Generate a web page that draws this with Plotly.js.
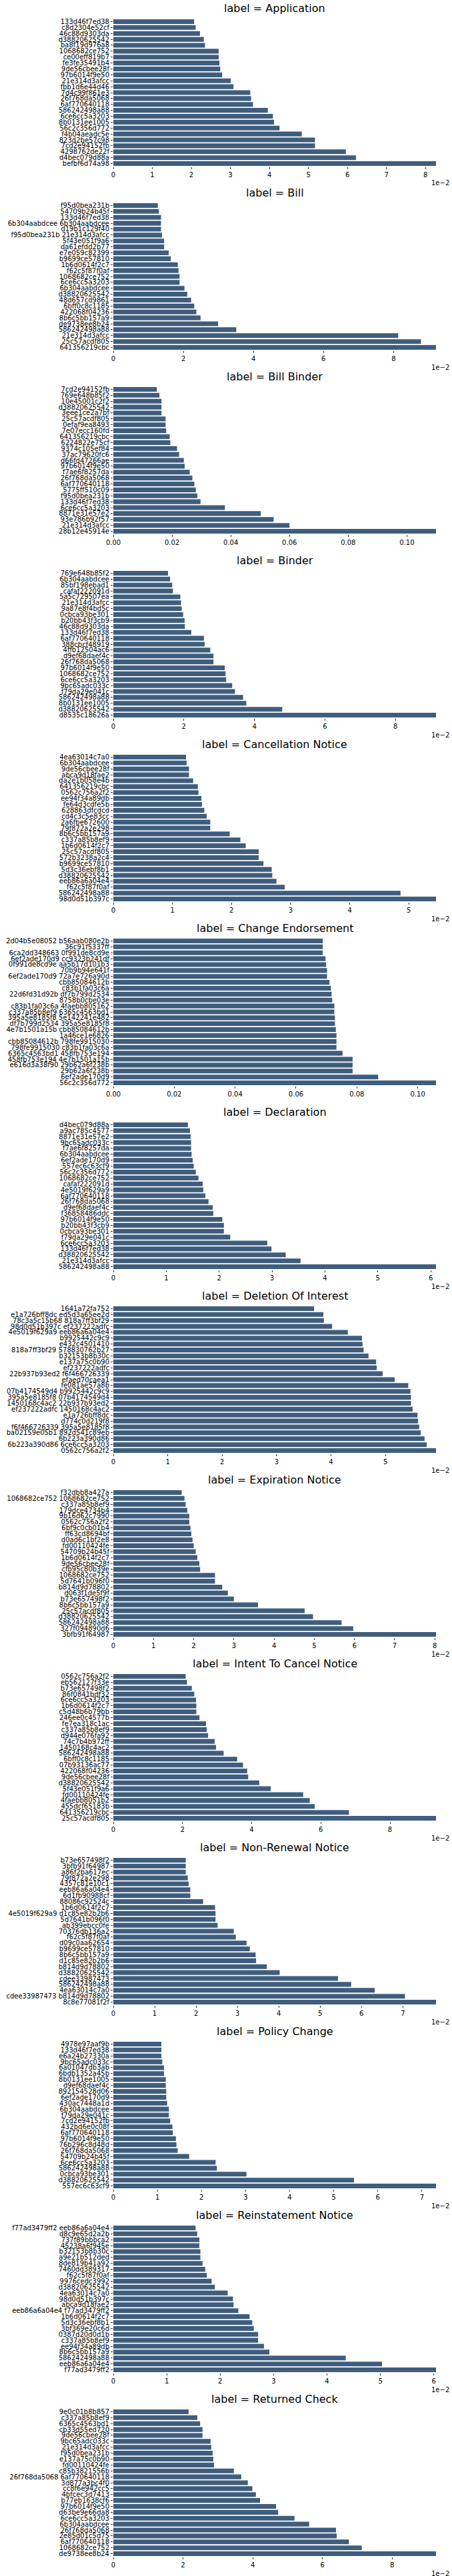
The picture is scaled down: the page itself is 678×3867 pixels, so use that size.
<!DOCTYPE html>
<html>
<head>
<meta charset="utf-8">
<script src="https://cdn.plot.ly/plotly-3.0.1.min.js"></script>
<style>body{margin:0;background:#fff}</style>
</head>
<body>
<div id="chart"></div>
<script>
var titles = ['Application', 'Bill', 'Bill Binder', 'Binder', 'Cancellation Notice', 'Change Endorsement',
  'Declaration', 'Deletion Of Interest', 'Expiration Notice', 'Intent To Cancel Notice', 'Non-Renewal Notice',
  'Policy Change', 'Reinstatement Notice', 'Returned Check'];

// axis multiplier shown at the bottom right of each panel
var exponents = ['1e\u22122', '1e\u22122', '', '1e\u22122', '1e\u22122', '', '1e\u22122', '1e\u22122',
  '1e\u22122', '1e\u22122', '1e\u22122', '1e\u22122', '1e\u22122', '1e\u22122'];
var tickSteps = [1, 2, 0.02, 2, 1, 0.02, 1, 1, 1, 2, 1, 1, 1, 2];

var applicationLabels = ['133d46f7ed38', 'c8d2304e52cf', '46c88d9303da', 'd38820625542', 'ba8f19d976a8', '1068682ce752', 'ce00eff819b7', 'fe3fe35491b4', '9de56cbee28f', '97b6014f9e50', '21e314d3afcc', 'fbb1d6e44d46', '7d4c99f861e3', '26f768da5068', '6af770640118', '586242498a88', '6ce6cc5a3203', '8b0131ee1005', '56c2c356d772', 'f4b04aeadc5e', '823d2be57c98', '7cd2e94152fb', '4298762de22f', 'd4bec079d88a', 'befbf6d74a98'];
var applicationValues = [2.07, 2.11, 2.22, 2.32, 2.35, 2.70, 2.70, 2.72, 2.74, 2.79, 3.01, 3.08, 3.51, 3.53, 3.58, 3.96, 4.09, 4.12, 4.26, 4.83, 5.17, 5.17, 5.96, 6.22, 8.27];

var billLabels = ['f95d0bea231b', '54709b24b45f', '133d46f7ed38', '6b304aabdcee 6b304aabdcee', 'd19b1c129f40', 'f95d0bea231b 21e314d3afcc', '5f43e051f9a6', 'da61efdd2b77', 'e7e059c82399', 'b9699ce57810', '1b6d0614f2c7', 'f62c5f87f0af', '1068682ce752', '6ce6cc5a3203', '6b304aabdcee', 'd38820625542', '48d657cd9861', '6bff0c8c1185', '422068f04236', '8b6c5bb157a9', 'de9738ee8b24', '586242498a88', '21e314d3afcc', '25c57acdf805', '641356219cbc'];
var billValues = [1.27, 1.30, 1.36, 1.36, 1.36, 1.39, 1.45, 1.45, 1.58, 1.64, 1.84, 1.86, 1.89, 1.89, 2.03, 2.11, 2.22, 2.31, 2.37, 2.49, 2.99, 3.51, 8.13, 8.78, 9.21];

var billBinderLabels = ['7cd2e94152fb', '769e648b85f2', '10e45001c2f2', 'd38820625542', '3eee1ce2a7bf', '25c57acdf805', '0efaf9ea8493', '7e07ecc160fd', '641356219cbc', '6224822e75cf', '9374c105ef84', '37ac79620fc6', 'd66fd47266ae', '97b6014f9e50', 'f7ae6f8257da', '26f768da5068', '6af770640118', '5775ff510c09', 'f95d0bea231b', '133d46f7ed38', '6ce6cc5a3203', '8871e31e57e2', '93e786b92f57', '21e314d3afcc', '28b12e45914e'];
var billBinderValues = [0.0148, 0.0157, 0.0164, 0.0164, 0.0164, 0.0178, 0.0178, 0.0180, 0.0192, 0.0194, 0.0217, 0.0224, 0.0240, 0.0243, 0.0260, 0.0269, 0.0276, 0.0281, 0.0286, 0.0297, 0.0380, 0.0502, 0.0546, 0.0600, 0.1099];

var binderLabels = ['769e648b85f2', '6b304aabdcee', '85bf198ebad1', 'cafaf222091d', '5a5c729507ea', '21e314d3afcc', '9a87e8f4bd5c', '0cbca93be301', 'b20bb43f3cb9', '46c88d9303da', '133d46f7ed38', '6af770640118', '388cbcf48919', '4ffb12504ac6', 'd9ef68daef4c', '26f768da5068', '97b6014f9e50', '1068682ce752', '6ce6cc5a3203', '9bc65adc033c', 'f79da29e041c', '586242498a88', '8b0131ee1005', 'd38820625542', 'd8535c18626a'];
var binderValues = [1.55, 1.61, 1.67, 1.69, 1.90, 1.92, 1.94, 1.98, 2.02, 2.03, 2.21, 2.57, 2.59, 2.75, 2.84, 2.84, 3.16, 3.18, 3.20, 3.37, 3.45, 3.68, 3.77, 4.79, 9.15];

var cancellationLabels = ['4ea63014c7a0', '6b304aabdcee', '9de56cbee28f', 'abca9d18fae2', 'da2e1b058e4b', '641356219cbc', '0562c756a2f2', 'ee94f34a89db', 'fe64d3cdfe5b', '628863dfcdcd', 'cd4c3c5e83cc', '2a6fbe672600', '79f872a2e298', '8b6c5bb157a9', 'c337a85b8ef9', '1b6d0614f2c7', '25c57acdf805', '572b3238a2c4', 'b9699ce57810', '5d3c36ebf8b1', 'd38820625542', 'eeb86a6a04e4', 'f62c5f87f0af', '586242498a88', '98d0d51b397c'];
var cancellationValues = [1.23, 1.24, 1.28, 1.28, 1.35, 1.43, 1.44, 1.49, 1.50, 1.54, 1.58, 1.64, 1.64, 1.97, 2.15, 2.24, 2.46, 2.46, 2.54, 2.68, 2.69, 2.76, 2.90, 4.86, 5.46];

var changeLabels = ['2d04b5e08052 b56aab080e2b', '36c91f5337ff', '6ca2dd348663 0f991de8cd9e', '6ef2ade170d9 cc9323b241df', '0f991de8cd9e aa5b17d101b3', '70b9b94e641f', '6ef2ade170d9 72a7e726a90d', 'cbb85084612b', 'c83b1fa03c6a', '22d6fd31d92b df7b799d2534', '8758b0cbe03e', 'c83b1fa03c6a 4faebb805162', 'c337a85b8ef9 6365c4563bd1', '395a5e8185f8 5e142241e482', 'df7b799d2534 395a5e8185f8', '4e7b1501a15b cbb85084612b', '1a46ce1e6826', 'cbb85084612b 798fe9915030', '798fe9915030 c83b1fa03c6a', '6365c4563bd1 458fb753e194', '458fb753e194 4e7b1501a15b', 'e616d3a38f90 29b62a6f238b', '29b62a6f238b', '6ef2ade170d9', '56c2c356d772'];
var changeValues = [0.0688, 0.0688, 0.0688, 0.0697, 0.0699, 0.0702, 0.0702, 0.0710, 0.0715, 0.0717, 0.0719, 0.0726, 0.0726, 0.0728, 0.0728, 0.0731, 0.0733, 0.0733, 0.0733, 0.0753, 0.0786, 0.0786, 0.0786, 0.0870, 0.1060];

var declarationLabels = ['d4bec079d88a', 'a9ac785c4577', '8871e31e57e2', '9bc65adc033c', 'f7ae6f8257da', '6b304aabdcee', '6ef2ade170d9', '557ec6c63cf9', '56c2c356d772', '1068682ce752', 'cafaf222091d', '4e5019f629a9', '6af770640118', '26f768da5068', 'd9ef68daef4c', 'f36858486ddc', '97b6014f9e50', 'b20bb43f3cb9', '0cbca93be301', 'f79da29e041c', '6ce6cc5a3203', '133d46f7ed38', 'd38820625542', '21e314d3afcc', '586242498a88'];
var declarationValues = [1.41, 1.45, 1.46, 1.47, 1.47, 1.48, 1.50, 1.52, 1.56, 1.61, 1.69, 1.70, 1.74, 1.80, 1.88, 1.89, 2.06, 2.09, 2.09, 2.21, 2.91, 2.99, 3.26, 3.54, 6.10];

var deletionLabels = ['1641a72fa752', 'e1a726bff8dc ed5d3a65ee2d', '78c3a5c15b68 818a7ff3bf29', '98d0d51b397c ef237222adfc', '4e5019f629a9 eeb86a6a04e4', 'b9925442c9c9', 'e432c4501410', '818a7ff3bf29 578830762b27', 'b32153b8b30c', 'e137a75c0b90', 'ef237222adfc', '22b937b93ed2 f6f466726339', 'efaed70caea1', 'fe081ae57a8b', '07b4174549d4 b9925442c9c9', '395a5e8185f8 07b4174549d4', '1450168c4ac2 22b937b93ed2', 'ef237222adfc 1450168c4ac2', 'e1a726bff8dc', 'd774c0d219f8', 'f6f466726339 395a5e8185f8', 'ba02159e05b1 892d541c89eb', '6b223a390d86', '6b223a390d86 6ce6cc5a3203', '0562c756a2f2'];
var deletionValues = [3.69, 3.86, 3.87, 4.02, 4.31, 4.57, 4.58, 4.60, 4.69, 4.83, 4.84, 4.95, 5.17, 5.42, 5.46, 5.47, 5.47, 5.50, 5.59, 5.60, 5.62, 5.65, 5.72, 5.76, 5.93];

var expirationLabels = ['f32dbb8a427a', '1068682ce752 1068682ce752', 'c337a85b8ef9', '179dce4734b4', '9b16d62c7990', '0562c756a2f2', '6bf9c0cb01b4', 'ff63cd8694bf', 'd0ad6c1bf2e8', 'fd00110424fe', '54709b24b45f', '1b6d0614f2c7', '9de56cbee28f', 'cfb95c80b39e', '1068682ce752', '5d7641b096f0', 'b814d9d78802', 'd063f1de5f9f', 'b73e657498f2', '8b6c5bb157a9', '25c57acdf805', 'd38820625542', '586242498a88', '327f094890d6', '3bfb91f64987'];
var expirationValues = [1.70, 1.77, 1.80, 1.84, 1.89, 1.89, 1.92, 1.94, 1.97, 2.00, 2.05, 2.09, 2.14, 2.16, 2.53, 2.53, 2.71, 2.85, 3.00, 3.60, 4.76, 4.97, 5.68, 5.97, 8.03];

var intentLabels = ['0562c756a2f2', 'eb562127f33e', 'b73e657498f2', '86f0841bdf32', '6ce6cc5a3203', '1b6d0614f2c7', 'c5d48b6b79bb', '246ee0c4577b', 'fe7ea318c1ac', 'c337a85b8ef9', 'd944e076fa92', '74c7b4b972ff', '1450168c4ac2', '586242498a88', '6bff0c8c1185', '07b93136ac77', '422068f04236', '9de56cbee28f', 'd38820625542', '5f43e051f9a6', 'fd00110424fe', '4faebb8051b2', '455dcf65183b', '641356219cbc', '25c57acdf805'];
var intentValues = [2.09, 2.13, 2.27, 2.34, 2.39, 2.40, 2.40, 2.49, 2.68, 2.70, 2.74, 2.93, 2.97, 3.19, 3.58, 3.75, 3.87, 3.90, 4.22, 4.55, 5.49, 5.68, 5.82, 6.81, 9.33];

var nonRenewalLabels = ['b73e657498f2', '3bfb91f64987', 'a86f2ba617ec', '79f872a2e298', '4357c81e10c1', 'eeb86a6a04e4', '6d1fb90988cf', '88086c92524c', '1b6d0614f2c7', '4e5019f629a9 d1c85e82b2b6', '5d7641b096f0', 'ab399ebcc0fe', '70376db136a2', 'f62c5f87f0af', 'd09c0aa62654', 'b9699ce57810', '8b6c5bb157a9', 'd1c85e82b2b6', 'b814d9d78802', 'd38820625542', 'cdee33987473', '586242498a88', '4ea63014c7a0', 'cdee33987473 b814d9d78802', '8c8e77081f2f'];
var nonRenewalValues = [1.75, 1.75, 1.75, 1.80, 1.82, 1.86, 1.86, 2.17, 2.46, 2.47, 2.47, 2.52, 2.91, 2.96, 3.22, 3.30, 3.44, 3.45, 3.71, 4.02, 5.43, 5.75, 6.32, 7.05, 7.80];

var policyLabels = ['4978e97aaf9b', '133d46f7ed38', 'e6a24b27330a', '9bc65adc033c', '6a01047db3ab', '6bdb1352a45b', '8b0131ee1005', 'd9ef68daef4c', '892154528d06', '6ef2ade170d9', '430ac7448a1d', '6b304aabdcee', 'f79da29e041c', '7cd2e94152fb', '432bd6e0c08f', '6af770640118', '97b6014f9e50', '76b296c8d48d', '26f768da5068', '54709b24b45f', '6ce6cc5a3203', '586242498a88', '0cbca93be301', 'd38820625542', '557ec6c63cf9'];
var policyValues = [1.09, 1.09, 1.09, 1.11, 1.15, 1.15, 1.19, 1.19, 1.20, 1.20, 1.22, 1.26, 1.26, 1.29, 1.34, 1.35, 1.42, 1.43, 1.46, 1.72, 2.32, 2.35, 3.02, 5.46, 7.32];

var reinstatementLabels = ['f77ad3479ff2 eeb86a6a04e4', 'd8c9e65d2a2b', '737f89bbbca2', '45238a6f945e', 'b32153b8b30c', 'a9e21b512ded', '8de819b41a92', '7460dd389317', 'f62c5f87f0af', '9976cedc3992', 'd38820625542', '4ea63014c7a0', '98d0d51b397c', 'abca9d18fae2', 'eeb86a6a04e4 f77ad3479ff2', '1b6d0614f2c7', '5d3c36ebf8b1', '3bf369e20c6d', '0387d20d0d1b', 'c337a85b8ef9', 'ee94f34a89db', '8b6c5bb157a9', '586242498a88', 'eeb86a6a04e4', 'f77ad3479ff2'];
var reinstatementValues = [1.54, 1.57, 1.61, 1.61, 1.63, 1.63, 1.67, 1.72, 1.75, 1.84, 1.90, 2.14, 2.24, 2.25, 2.34, 2.55, 2.60, 2.63, 2.71, 2.71, 2.82, 2.92, 4.35, 5.03, 6.04];

var returnedLabels = ['9e0c01b8b857', 'c337a85b8ef9', '6365c4563bd1', 'cb33d55ed720', '9de56cbee28f', '9bc65adc033c', '21e314d3afcc', 'f95d0bea231b', 'e137a75c0b90', 'fd00110424fe', 'c85b3821556b', '26f768da5068 6af770640118', '3d877a3bc4f0', 'cc8f6e942cc5', '4bfcec3d7413', 'b77eb1638cf6', '97b6014f9e50', 'd63be9e66da8', '6ce6cc5a3203', '6b304aabdcee', '26f768da5068', '2e85d01c5d75', '6af770640118', '1068682ce752', 'de9738ee8b24'];
var returnedValues = [2.16, 2.41, 2.49, 2.56, 2.56, 2.79, 2.81, 2.85, 2.87, 2.89, 3.46, 3.67, 3.86, 3.99, 4.09, 4.21, 4.67, 4.73, 5.20, 5.62, 6.39, 6.41, 6.76, 7.13, 9.26];

var allLabels = [applicationLabels, billLabels, billBinderLabels, binderLabels, cancellationLabels, changeLabels,
  declarationLabels, deletionLabels, expirationLabels, intentLabels, nonRenewalLabels, policyLabels,
  reinstatementLabels, returnedLabels];
var allValues = [applicationValues, billValues, billBinderValues, binderValues, cancellationValues, changeValues,
  declarationValues, deletionValues, expirationValues, intentValues, nonRenewalValues, policyValues,
  reinstatementValues, returnedValues];

var W = 678, H = 3867, panelStep = 276;
var font = 'DejaVu Sans, sans-serif';
var data = [];
var layout = {
  width: W, height: H,
  margin: {l: 0, r: 0, t: 0, b: 0},
  paper_bgcolor: '#fff', plot_bgcolor: '#fff',
  showlegend: false,
  bargap: 0.2,
  font: {family: font, size: 10, color: '#000'},
  annotations: []
};

titles.forEach(function(title, k) {
  var n = k + 1;
  var xa = 'x' + (n === 1 ? '' : n), ya = 'y' + (n === 1 ? '' : n);
  var top = panelStep * k + 28, bottom = panelStep * k + 250;
  var idx = allValues[k].map(function(v, i) { return i; });

  data.push({
    type: 'bar', orientation: 'h',
    x: allValues[k], y: idx,
    xaxis: xa, yaxis: ya,
    marker: {color: '#3f5d7d'},
    hoverinfo: 'x'
  });

  var vmax = Math.max.apply(null, allValues[k]);
  layout['xaxis' + (n === 1 ? '' : n)] = {
    domain: [170 / W, 654 / W],
    anchor: ya,
    range: [0, vmax],
    dtick: tickSteps[k], tick0: 0,
    tickformat: tickSteps[k] < 1 ? '.2f' : 'd',
    showgrid: false, zeroline: false, showline: false,
    ticks: 'outside', ticklen: 3, tickcolor: '#333',
    tickfont: {family: font, size: 10, color: '#000'}
  };
  layout['yaxis' + (n === 1 ? '' : n)] = {
    domain: [1 - bottom / H, 1 - top / H],
    anchor: xa,
    range: [24.5, -0.5],
    tickvals: idx, ticktext: allLabels[k],
    showgrid: false, zeroline: false, showline: false,
    ticks: 'outside', ticklen: 3, tickcolor: '#333',
    tickfont: {family: font, size: 10, color: '#000'}
  };

  layout.annotations.push({
    text: 'label = ' + title,
    xref: 'paper', yref: 'paper',
    x: 412 / W, y: 1 - (panelStep * k + 13) / H,
    xanchor: 'center', yanchor: 'middle', showarrow: false,
    font: {family: font, size: 16, color: '#000'}
  });
  if (exponents[k]) {
    layout.annotations.push({
      text: exponents[k],
      xref: 'paper', yref: 'paper',
      x: 676 / W, y: 1 - (panelStep * k + 275) / H,
      xanchor: 'right', yanchor: 'middle', showarrow: false,
      font: {family: font, size: 10, color: '#000'}
    });
  }
});

Plotly.newPlot('chart', data, layout, {displayModeBar: false, staticPlot: true});
</script>
</body>
</html>
